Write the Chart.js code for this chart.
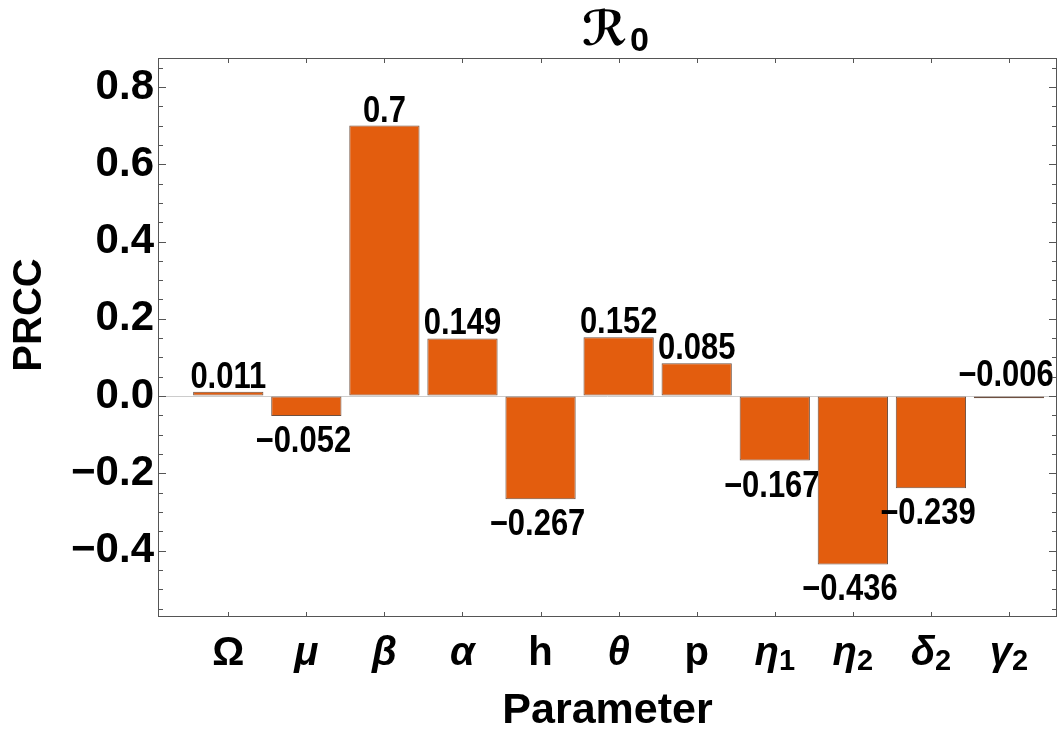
<!DOCTYPE html>
<html>
<head>
<meta charset="utf-8">
<script src="https://cdn.jsdelivr.net/npm/chart.js@4"></script>
<style>
html, body { margin: 0; padding: 0; background: #fff; }
</style>
</head>
<body>
<canvas id="prcc-chart" width="1058" height="735"></canvas>
<script>
// PRCC sensitivity of R0 for each model parameter
const parameterLabels = ['Ω', 'μ', 'β', 'α', 'h', 'θ', 'p', 'η₁', 'η₂', 'δ₂', 'γ₂'];
const prccValues = [0.011, -0.052, 0.7, 0.149, -0.267, 0.152, 0.085, -0.167, -0.436, -0.239, -0.006];
const yTicks = [-0.4, -0.2, 0.0, 0.2, 0.4, 0.6, 0.8];

const SANS = '"Liberation Sans", Arial, sans-serif';
const SUBS = '₀₁₂₃₄₅₆₇₈₉';

function minusSign(str) {
    return str.replace('-', '\u2212');
}

function splitLabel(label) {
    let base = '', sub = '';
    for (const ch of label) {
        const k = SUBS.indexOf(ch);
        if (k >= 0) sub += String(k); else base += ch;
    }
    return { base, sub };
}

const decorations = {
    id: 'decorations',
    afterDatasetsDraw(chart) {
        const ctx = chart.ctx;
        const meta = chart.getDatasetMeta(0);
        ctx.save();
        ctx.fillStyle = '#000';
        ctx.font = 'bold 36px ' + SANS;
        ctx.textAlign = 'center';
        ctx.textBaseline = 'alphabetic';
        meta.data.forEach((bar, i) => {
            const v = prccValues[i];
            const text = minusSign(String(v));
            let y;
            if (v >= 0) y = bar.y - 4;
            else if (Math.abs(v) < 0.01) y = bar.base - 11;
            else y = bar.y + 36;
            ctx.save();
            ctx.translate(bar.x - (v < 0 ? 3 : 0), y);
            ctx.scale(0.86, 1);
            ctx.fillText(text, 0, 0);
            ctx.restore();
        });
        ctx.restore();
    },
    afterDraw(chart) {
        const ctx = chart.ctx;
        const { left, right, top, bottom } = chart.chartArea;
        const xs = chart.scales.x, ys = chart.scales.y;
        ctx.save();

        // frame with inward ticks
        ctx.strokeStyle = '#555';
        ctx.lineWidth = 1;
        ctx.strokeRect(left + 0.5, top + 0.5, right - left - 1, bottom - top - 1);
        ctx.beginPath();
        for (let k = -11; k <= 17; k++) {
            const py = Math.round(ys.getPixelForValue(k * 0.05)) + 0.5;
            if (py < top || py > bottom) continue;
            const len = k % 4 === 0 ? 8 : 5;
            ctx.moveTo(left, py); ctx.lineTo(left + len, py);
            ctx.moveTo(right, py); ctx.lineTo(right - len, py);
        }
        parameterLabels.forEach((_, i) => {
            const px = Math.round(xs.getPixelForValue(i)) + 0.5;
            ctx.moveTo(px, top); ctx.lineTo(px, top + 5);
            ctx.moveTo(px, bottom); ctx.lineTo(px, bottom - 5);
        });
        ctx.stroke();

        // category labels with subscripts
        ctx.fillStyle = '#000';
        ctx.textBaseline = 'alphabetic';
        ctx.textAlign = 'left';
        parameterLabels.forEach((label, i) => {
            const { base, sub } = splitLabel(label);
            const italic = /[α-ω]/.test(base) ? 'italic ' : '';
            const mainFont = italic + 'bold 40px ' + SANS;
            const subFont = 'bold 29px ' + SANS;
            ctx.font = mainFont;
            const wMain = ctx.measureText(base).width;
            ctx.font = subFont;
            const wSub = sub ? ctx.measureText(sub).width : 0;
            const x0 = xs.getPixelForValue(i) - (wMain + wSub) / 2;
            const baseY = bottom + 48;
            ctx.font = mainFont;
            ctx.fillText(base, x0, baseY);
            if (sub) {
                ctx.font = subFont;
                ctx.fillText(sub, x0 + wMain, baseY + 5);
            }
        });

        // title R_0
        const scriptFont = 'bold 48px "DejaVu Sans", "DejaVu Serif", serif';
        const subFont = 'bold 34px ' + SANS;
        const cx = (left + right) / 2 + 8;
        ctx.font = scriptFont;
        const wR = ctx.measureText('ℛ').width;
        ctx.font = subFont;
        const w0 = ctx.measureText('0').width;
        const tx = cx - (wR + w0 + 3) / 2;
        ctx.font = scriptFont;
        ctx.fillText('ℛ', tx, 45);
        ctx.font = subFont;
        ctx.fillText('0', tx + wR + 3, 51);

        // y axis title
        ctx.translate(30, 315);
        ctx.rotate(-Math.PI / 2);
        ctx.textAlign = 'center';
        ctx.textBaseline = 'middle';
        ctx.font = 'bold 40px ' + SANS;
        ctx.fillText('PRCC', 0, 0);
        ctx.restore();
    }
};

new Chart(document.getElementById('prcc-chart'), {
    type: 'bar',
    data: {
        datasets: [{
            data: prccValues.map((v, i) => ({ x: i, y: v })),
            backgroundColor: 'rgb(227, 93, 14)',
            borderColor: 'rgb(110, 80, 64)',
            borderWidth: 1,
            borderSkipped: false,
            barPercentage: 0.9,
            categoryPercentage: 1.0
        }]
    },
    options: {
        responsive: false,
        animation: false,
        devicePixelRatio: 1,
        layout: { padding: { top: 58, right: 1, left: 0, bottom: 0 } },
        plugins: {
            legend: { display: false },
            tooltip: { enabled: false },
            title: { display: false }
        },
        scales: {
            x: {
                type: 'linear',
                min: -0.9,
                max: 10.615,
                offset: false,
                afterBuildTicks: scale => {
                    scale.ticks = parameterLabels.map((_, i) => ({ value: i }));
                },
                grid: { display: false },
                border: { display: false },
                ticks: { display: false },
                title: {
                    display: true,
                    text: 'Parameter',
                    color: '#000',
                    font: { family: SANS, size: 43, weight: 'bold' },
                    padding: { top: 0, bottom: -2 }
                },
                afterFit: scale => { scale.height = 118; }
            },
            y: {
                min: -0.572,
                max: 0.875,
                afterBuildTicks: scale => {
                    scale.ticks = yTicks.map(v => ({ value: v }));
                },
                grid: {
                    drawTicks: false,
                    color: ctx => (ctx.tick && ctx.tick.value === 0 ? '#cccccc' : 'rgba(0,0,0,0)')
                },
                border: { display: false },
                ticks: {
                    padding: 4,
                    color: '#000',
                    font: { family: SANS, size: 42, weight: 'bold' },
                    callback: v => minusSign(v.toFixed(1))
                },
                afterFit: scale => { scale.width = 158; }
            }
        }
    },
    plugins: [decorations]
});
</script>
</body>
</html>
